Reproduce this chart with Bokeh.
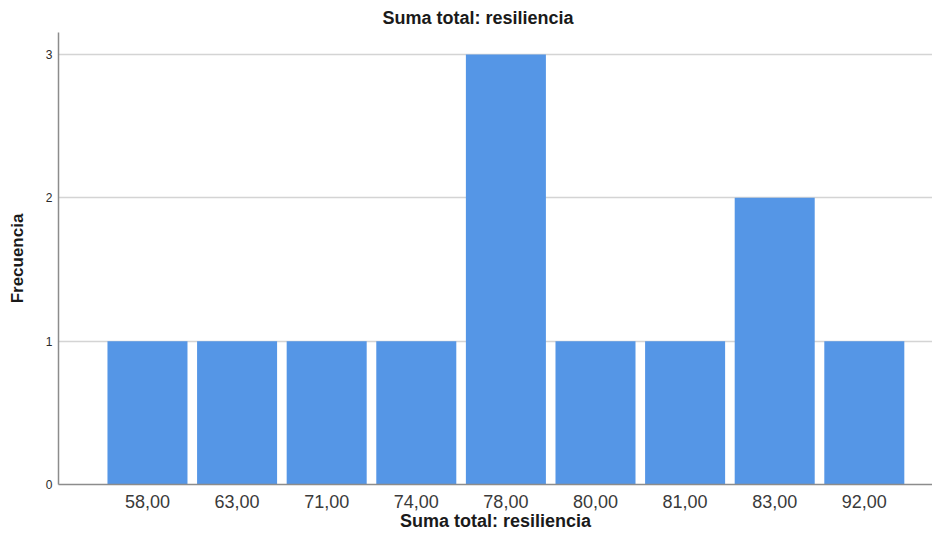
from bokeh.plotting import figure
from bokeh.models import Range1d, FixedTicker
from bokeh.embed import file_html
from bokeh.resources import INLINE

categories = ["58,00", "63,00", "71,00", "74,00", "78,00", "80,00", "81,00", "83,00", "92,00"]
frequencies = [1, 1, 1, 1, 3, 1, 1, 2, 1]
y_ticks = [0, 1, 2, 3]

FONT = "Liberation Sans"
BAR = "#5596e6"

xs = list(range(len(categories)))

p = figure(width=932, height=534, output_backend="svg", toolbar_location=None,
           x_range=Range1d(-0.993, 8.761), y_range=Range1d(0, 3.153),
           min_border_left=58, min_border_right=0, min_border_top=32, min_border_bottom=50)
p.outline_line_color = None
p.background_fill_color = "white"
p.border_fill_color = "white"

p.title.text = "Suma total: resiliencia"
p.title.align = "left"
p.title.offset = 324
p.title.standoff = 9
p.title.text_font = FONT
p.title.text_font_size = "18px"
p.title.text_font_style = "bold"
p.title.text_color = "#1a1a1a"

p.vbar(x=xs, top=frequencies, width=0.893, bottom=0, fill_color=BAR, line_color=None)

# axes
p.xaxis.ticker = FixedTicker(ticks=xs)
p.xaxis.major_label_overrides = {i: c for i, c in enumerate(categories)}
p.yaxis.ticker = FixedTicker(ticks=y_ticks)
for ax in (p.xaxis[0], p.yaxis[0]):
    ax.axis_line_color = "#8c8c8c"
    ax.axis_line_width = 1.5
    ax.major_tick_line_color = None
    ax.minor_tick_line_color = None
    ax.major_tick_out = 0
    ax.major_tick_in = 0
    ax.major_label_text_font = FONT
    ax.axis_label_text_font = FONT
    ax.axis_label_text_font_style = "bold"
    ax.axis_label_text_color = "#1a1a1a"

p.xaxis.major_label_text_font_size = "18px"
p.xaxis.major_label_text_color = "#3a3a3a"
p.xaxis.major_label_standoff = 10
p.xaxis.axis_label = "Suma total: resiliencia"
p.xaxis.axis_label_text_font_size = "18px"
p.xaxis.axis_label_standoff = 0

p.yaxis.major_label_text_font_size = "12px"
p.yaxis.major_label_text_color = "#2a2a2a"
p.yaxis.major_label_standoff = 6
p.yaxis.axis_label = "Frecuencia"
p.yaxis.axis_label_text_font_size = "17px"
p.yaxis.axis_label_standoff = 16

p.xgrid.grid_line_color = None
p.ygrid.ticker = FixedTicker(ticks=[1, 2, 3])
p.ygrid.grid_line_color = "#d4d4d4"
p.ygrid.grid_line_width = 1.5

open("out.html", "w").write(file_html(p, INLINE))
